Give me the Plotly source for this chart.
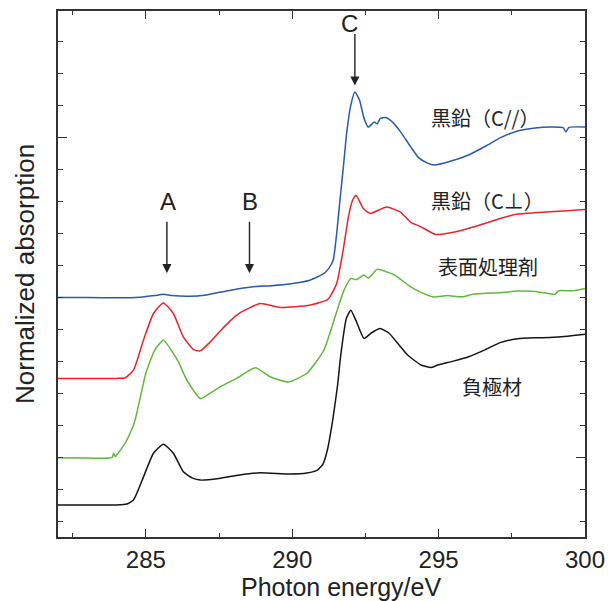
import plotly.graph_objects as go

# ---------------- data ----------------
black_x = [282.0, 283.0, 284.0, 284.35, 284.58, 284.92, 285.26, 285.6, 285.94, 286.28, 286.6, 286.86,
           287.5, 288.2, 288.9, 289.9, 290.5, 290.86, 291.05, 291.2, 291.4, 291.55, 291.65, 291.85,
           292.0, 292.2, 292.45, 292.7, 293.0, 293.3, 293.7, 293.94, 294.4, 294.74, 294.97, 295.5,
           296.0, 296.6, 297.1, 297.7, 298.3, 298.8, 299.4, 300.0]
black_y = [1.50, 1.50, 1.50, 1.53, 1.66, 2.38, 3.12, 3.40, 3.12, 2.54, 2.34, 2.28,
           2.33, 2.44, 2.51, 2.47, 2.50, 2.59, 2.78, 3.22, 4.26, 5.25, 6.13, 7.34,
           7.59, 7.22, 6.71, 6.88, 7.02, 6.88, 6.45, 6.19, 5.88, 5.80, 5.88, 6.00,
           6.13, 6.36, 6.58, 6.70, 6.73, 6.74, 6.78, 6.84]

red_x = [282.0, 283.0, 284.0, 284.3, 284.58, 284.92, 285.26, 285.6, 285.94, 286.28, 286.63, 286.86,
         287.2, 287.55, 287.87, 288.2, 288.9, 289.6, 290.6, 291.18, 291.29, 291.52, 291.74, 291.92,
         292.06, 292.18, 292.43, 292.66, 293.23, 293.7, 294.05, 294.4, 294.9, 295.5, 296.0, 296.6,
         297.1, 297.7, 298.3, 298.8, 299.4, 300.0]
red_y = [5.46, 5.46, 5.46, 5.48, 5.72, 6.66, 7.49, 7.82, 7.49, 6.76, 6.36, 6.32,
         6.60, 6.95, 7.25, 7.50, 7.80, 7.68, 7.75, 7.91, 8.01, 8.43, 9.47, 10.51,
         11.03, 11.19, 10.77, 10.62, 10.82, 10.66, 10.34, 10.20, 9.96, 10.03, 10.15, 10.31,
         10.46, 10.60, 10.64, 10.67, 10.70, 10.74]

blue_x = [282.0, 283.0, 284.0, 284.8, 285.3, 285.6, 285.9, 286.5, 287.0, 287.9, 288.6, 289.3,
          289.9, 290.6, 291.08, 291.25, 291.4, 291.52, 291.63, 291.75, 291.86, 292.0, 292.14, 292.3,
          292.45, 292.6, 292.8, 292.9, 293.0, 293.2, 293.45, 293.7, 294.05, 294.3, 294.6, 294.86,
          295.4, 296.0, 296.6, 297.1, 297.7, 298.3, 298.8, 299.25, 299.35, 299.45, 300.0]
blue_y = [7.99, 7.99, 7.98, 8.00, 8.05, 8.09, 8.05, 8.03, 8.06, 8.22, 8.32, 8.36,
          8.41, 8.53, 8.74, 8.90, 9.16, 10.00, 11.03, 12.10, 13.13, 14.00, 14.42, 14.16,
          13.60, 13.32, 13.48, 13.42, 13.58, 13.62, 13.45, 13.17, 12.70, 12.38, 12.20, 12.13,
          12.25, 12.44, 12.72, 12.98, 13.20, 13.29, 13.32, 13.30, 13.17, 13.31, 13.32]

green_x = [282.0, 283.0, 283.5, 283.85, 283.9, 283.95, 284.0, 284.3, 284.6, 285.0, 285.3, 285.6,
           285.75, 285.94, 286.1, 286.4, 286.86, 287.2, 287.55, 288.1, 288.74, 289.25, 289.87, 290.5,
           291.08, 291.5, 291.77, 292.0, 292.2, 292.45, 292.6, 292.9, 293.2, 293.5, 294.05, 294.4,
           294.8, 295.3, 295.8, 296.2, 296.6, 297.2, 297.7, 298.3, 298.97, 299.1, 299.6, 300.0]
green_y = [2.98, 2.97, 2.96, 2.99, 3.12, 3.02, 3.06, 3.44, 4.05, 5.62, 6.34, 6.66,
           6.50, 6.24, 6.00, 5.41, 4.83, 5.00, 5.20, 5.46, 5.79, 5.51, 5.35, 5.62,
           6.34, 7.49, 8.22, 8.58, 8.55, 8.69, 8.60, 8.87, 8.80, 8.69, 8.32, 8.15,
           8.01, 8.05, 8.01, 8.10, 8.12, 8.15, 8.19, 8.18, 8.09, 8.20, 8.20, 8.27]

series = [
    ("黒鉛（C//）", blue_x, blue_y, "#2a5aa8"),
    ("黒鉛（C⊥）", red_x, red_y, "#e8242a"),
    ("表面処理剤", green_x, green_y, "#62b83a"),
    ("負極材", black_x, black_y, "#151515"),
]

x_ticks = [285, 290, 295, 300]
peak_labels = ["A", "B", "C"]
peak_x = [285.72, 288.54, 292.14]
peak_tip_y = [8.75, 8.75, 14.62]

# ---------------- figure ----------------
fig = go.Figure()
for name, xs, ys, col in series:
    fig.add_trace(go.Scatter(x=xs, y=ys, mode="lines", name=name,
                             line=dict(color=col, width=1.5, shape="spline", smoothing=0.5),
                             showlegend=False, hoverinfo="skip"))

# invisible helper trace so the right-hand axis is drawn
fig.add_trace(go.Scatter(x=[None], y=[None], yaxis="y2", showlegend=False, hoverinfo="skip"))

AX = "#333333"
TXT = "#222222"
YR = [0.5, 16.95]

fig.update_layout(
    width=608, height=601,
    margin=dict(l=58, r=23, t=11, b=64, autoexpand=False),
    paper_bgcolor="white", plot_bgcolor="white",
    font=dict(family="Liberation Sans, Arial, sans-serif", color=TXT),
    xaxis=dict(range=[282, 300], tickvals=x_ticks, ticktext=[str(v) for v in x_ticks],
               ticks="inside", ticklen=8, tickwidth=1.3, tickcolor=AX,
               minor=dict(dtick=2.5, tick0=282.5, ticks="inside", ticklen=4, tickwidth=1.3, tickcolor=AX),
               showline=True, linecolor=AX, linewidth=1.8, mirror="ticks",
               showgrid=False, zeroline=False, automargin=False,
               tickfont=dict(size=24, color=TXT)),
    yaxis=dict(range=YR, tickvals=[13], showticklabels=False,
               ticks="inside", ticklen=9, tickwidth=1.3, tickcolor=AX,
               minor=dict(dtick=1, tick0=0, ticks="inside", ticklen=5, tickwidth=1.3, tickcolor=AX),
               showline=True, linecolor=AX, linewidth=1.8, mirror=True,
               showgrid=False, zeroline=False, automargin=False),
    yaxis2=dict(range=YR, overlaying="y", side="right", tickvals=[3], showticklabels=False,
                ticks="inside", ticklen=9, tickwidth=1.3, tickcolor=AX,
                minor=dict(dtick=1, tick0=0, ticks="inside", ticklen=5, tickwidth=1.3, tickcolor=AX),
                showline=False, showgrid=False, zeroline=False, automargin=False),
)

annotations = []
# axis titles
annotations.append(dict(text="Photon energy/eV", xref="paper", yref="paper", x=0.537, y=-0.096,
                         xanchor="center", yanchor="middle", showarrow=False,
                         font=dict(size=25, color=TXT)))
annotations.append(dict(text="Normalized absorption", xref="paper", yref="paper", x=-0.0626, y=0.5,
                         xanchor="center", yanchor="middle", showarrow=False, textangle=-90,
                         font=dict(size=26, color=TXT)))
# peak labels with arrows
for lab, px, py in zip(peak_labels, peak_x, peak_tip_y):
    annotations.append(dict(x=px, y=py, xref="x", yref="y", ax=0, ay=-53, axref="pixel", ayref="pixel",
                             text="", showarrow=True, arrowhead=2, arrowsize=1.3, arrowwidth=1.4,
                             arrowcolor=TXT))
annotations.append(dict(text="A", x=285.74, y=11.0, xref="x", yref="y", showarrow=False,
                         font=dict(size=24, color=TXT)))
annotations.append(dict(text="B", x=288.55, y=11.0, xref="x", yref="y", showarrow=False,
                         font=dict(size=24, color=TXT)))
annotations.append(dict(text="C", x=291.97, y=16.55, xref="x", yref="y", showarrow=False,
                         font=dict(size=24, color=TXT)))
# curve labels
cjk = "Noto Sans CJK JP, sans-serif"
for txt, lx, ly in [("黒鉛（C//）", 294.66, 13.62), ("黒鉛（C⊥）", 294.66, 11.03),
                    ("表面処理剤", 294.90, 8.95), ("負極材", 295.72, 5.20)]:
    annotations.append(dict(text=txt, x=lx, y=ly, xref="x", yref="y", xanchor="left", yanchor="middle",
                             showarrow=False, font=dict(size=20, family=cjk, color=TXT)))

fig.update_layout(annotations=annotations)
fig.write_html("out.html")
